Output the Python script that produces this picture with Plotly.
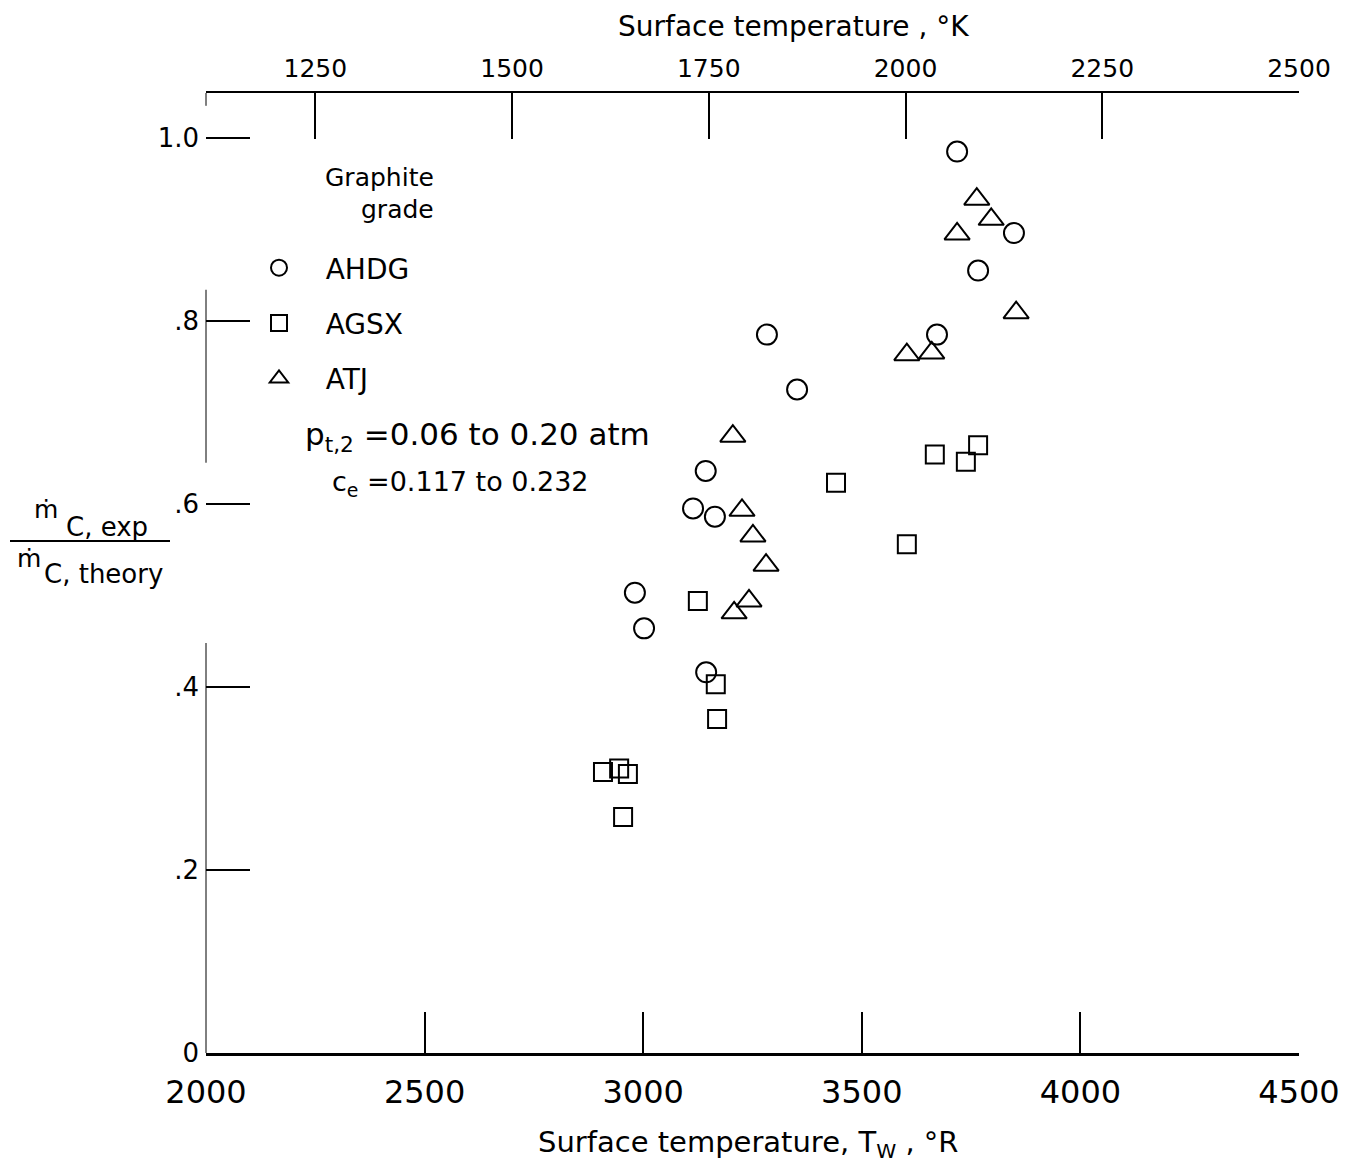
import plotly.graph_objects as go

# ---------------- data ----------------
ahdg_T = [3718, 3848, 3766, 3672, 3283, 3352, 3143, 3114, 3164, 2981, 3002, 3144]
ahdg_v = [0.985, 0.896, 0.855, 0.785, 0.785, 0.725, 0.636, 0.595, 0.586, 0.503, 0.464, 0.416]

agsx_T = [3441, 3125, 3166, 3169, 2908, 2945, 2965, 2954, 3667, 3766, 3738, 3603]
agsx_v = [0.623, 0.494, 0.403, 0.365, 0.307, 0.311, 0.305, 0.258, 0.654, 0.664, 0.646, 0.556]

atj_T = [3205, 3226, 3251, 3281, 3242, 3208, 3763, 3796, 3718, 3853, 3603, 3660]
atj_v = [0.674, 0.593, 0.565, 0.533, 0.494, 0.481, 0.933, 0.911, 0.895, 0.809, 0.763, 0.765]

x_ticks_R = [2000, 2500, 3000, 3500, 4000, 4500]
x_ticks_K = [1250, 1500, 1750, 2000, 2250, 2500]
y_ticks = [0, 0.2, 0.4, 0.6, 0.8, 1.0]
y_ticktext = ["0", ".2", ".4", ".6", ".8", "1.0"]
x_range_R = [2000, 4500]
y_range = [0, 1.049]

FONT = "DejaVu Sans"
BODY = 8  # page margin added by the browser around the figure
W, H = 1349 - 2 * BODY, 1170 - 2 * BODY
ML, MT = 206 - BODY, 93 - BODY
PW, PH = 1093, 960
MR, MB = W - ML - PW, H - MT - PH


def px(xp):
    """reference pixel x -> paper x"""
    return (xp - 206) / PW


def py(yp):
    """reference pixel y -> paper y"""
    return (1053 - yp) / PH


fig = go.Figure()
mk_line = dict(width=2, color="black")
NB = "\u00a0"
fig.add_trace(go.Scatter(x=ahdg_T, y=ahdg_v, mode="markers", name=NB * 3 + "AHDG",
                         legendgroup="a",
                         marker=dict(symbol="circle-open", size=20, color="black", line=mk_line)))
fig.add_trace(go.Scatter(x=agsx_T, y=agsx_v, mode="markers", name=NB * 3 + "AGSX",
                         legendgroup="b",
                         marker=dict(symbol="square-open", size=18, color="black", line=mk_line)))
fig.add_trace(go.Scatter(x=atj_T, y=atj_v, mode="markers", name=NB * 3 + "ATJ",
                         legendgroup="c",
                         marker=dict(symbol="triangle-up-open", size=22, color="black", line=mk_line)))
# companion trace so the Kelvin axis is built
fig.add_trace(go.Scatter(x=[], y=[], xaxis="x2", showlegend=False, hoverinfo="skip"))

shapes = []
# left axis line (broken, as in the original)
for y0, y1 in [(0, 0.448), (0.645, 0.834), (1.035, 1.049)]:
    shapes.append(dict(type="line", xref="paper", yref="y", x0=0, x1=0, y0=y0, y1=y1,
                       line=dict(color="black", width=1)))
# fraction bar of y label
shapes.append(dict(type="line", xref="paper", yref="paper", x0=px(10), x1=px(170),
                   y0=py(541), y1=py(541), line=dict(color="black", width=2)))

ann = []


def text(xp, yp, s, size, xanchor="center", yanchor="middle"):
    ann.append(dict(xref="paper", yref="paper", x=px(xp), y=py(yp), text=s, showarrow=False,
                    xanchor=xanchor, yanchor=yanchor,
                    font=dict(family=FONT, size=size, color="black")))


text(793, 27, "Surface temperature , °K", 28)
text(748, 1144, "Surface temperature, T<sub>W</sub> , °R", 29)
# y-axis label as a fraction
text(46, 510, "ṁ", 25)
text(64, 527, "C, exp", 26, xanchor="left")
text(29, 558, "ṁ", 25)
text(42, 574, "C, theory", 26, xanchor="left")
# legend heading
text(323, 177, "Graphite", 25, xanchor="left")
text(359, 210, "grade", 25, xanchor="left")
text(303, 437, "p<sub>t,2</sub> =0.06 to 0.20 atm", 31, xanchor="left")
text(330, 483, "c<sub>e</sub> =0.117 to 0.232", 27, xanchor="left")

axis_common = dict(showgrid=False, zeroline=False, ticks="inside", tickcolor="black",
                   tickwidth=2, automargin=False)

fig.update_layout(
    width=W, height=H,
    margin=dict(l=ML, r=MR, t=MT, b=MB, autoexpand=False),
    paper_bgcolor="white", plot_bgcolor="white",
    font=dict(family=FONT, color="black"),
    xaxis=dict(range=x_range_R, tickvals=x_ticks_R, ticklen=41, showline=True, linewidth=2.5,
               linecolor="black", tickfont=dict(size=32), ticklabelstandoff=9, **axis_common),
    xaxis2=dict(overlaying="x", side="top", anchor="y",
                range=[x_range_R[0] / 1.8, x_range_R[1] / 1.8], tickvals=x_ticks_K, ticklen=46,
                showline=True, linewidth=2, linecolor="black", tickfont=dict(size=25),
                ticklabelstandoff=4, **axis_common),
    yaxis=dict(range=y_range, tickvals=y_ticks, ticktext=y_ticktext, ticklen=44,
               showline=False, tickfont=dict(size=26), ticklabelstandoff=6, **axis_common),
    showlegend=True,
    legend=dict(x=px(259), y=py(243), xanchor="left", yanchor="top",
                font=dict(family=FONT, size=28, color="black"),
                tracegroupgap=16, bgcolor="rgba(0,0,0,0)", itemsizing="trace"),
    shapes=shapes,
    annotations=ann,
)

fig.write_html("out.html")
